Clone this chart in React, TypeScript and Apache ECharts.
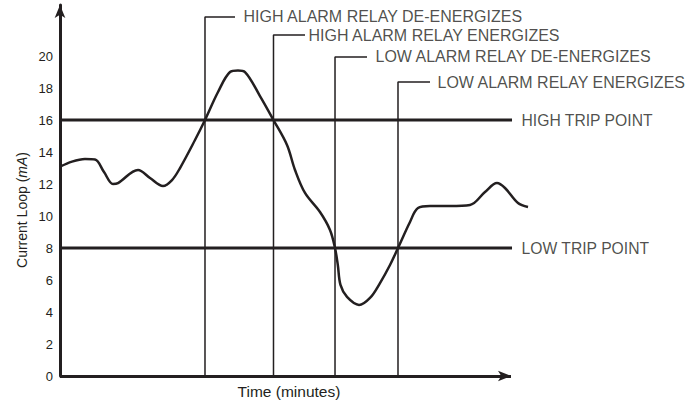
import React, { useEffect, useRef } from 'react';
import * as echarts from 'echarts';

// Current loop signal (time in arbitrary minute units, current in mA)
const curveTime = [0, 2.7, 5.62, 7.87, 9.9, 11.92, 13.05, 17.55, 20.25, 23.17, 25.2, 27.0, 30.37, 32.62, 35.55, 38.25, 40.04, 41.62, 44.99, 48.03, 51.07, 52.87, 55.12, 58.49, 60.74, 61.87, 62.5, 63.1, 64.57, 67.27, 69.74, 71.99, 74.24, 76.04, 78.74, 80.54, 83.24, 87.74, 92.24, 95.61, 98.31, 100.11, 103.04, 105.29];
const curveMA = [13.08, 13.4, 13.56, 13.53, 12.75, 12.0, 12.06, 12.88, 12.38, 11.88, 12.25, 13.0, 14.75, 16.0, 17.75, 19.0, 19.1, 19.0, 17.5, 16.0, 14.44, 12.88, 11.44, 10.25, 9.13, 8.0, 6.94, 5.69, 4.94, 4.44, 4.88, 5.81, 6.94, 8.0, 9.63, 10.5, 10.63, 10.63, 10.69, 11.5, 12.06, 11.75, 10.81, 10.56];

const tripLevels = [16, 8];
const tripLabels = ['HIGH TRIP POINT', 'LOW TRIP POINT'];
const tripEnd = 101.69;

const eventTimes = [32.62, 48.03, 61.87, 76.04];
const eventLevels = [22.44, 21.31, 19.94, 18.375];
const eventLeaderEnds = [39.37, 55.12, 69.07, 83.24];
const eventLabels = [
  'HIGH ALARM RELAY DE-ENERGIZES',
  'HIGH ALARM RELAY ENERGIZES',
  'LOW ALARM RELAY DE-ENERGIZES',
  'LOW ALARM RELAY ENERGIZES',
];

const yMin = 0;
const yMax = 23.19;
const yInterval = 2;
const yLabelMax = 20;
const xMin = 0;
const xMax = 107;
const xAxisEnd = 101.46;

const INK = '#231f20';
const FONT = "'Liberation Sans', Arial, sans-serif";
const eventLabelGaps = [8, 3, 8, 7];

export default function App() {
  const ref = useRef<HTMLDivElement>(null);

  useEffect(() => {
    if (!ref.current) return;
    const chart = echarts.init(ref.current, undefined, { renderer: 'svg' });

    const series: any[] = [];

    series.push({
      type: 'line',
      data: curveTime.map((t, i) => [t, curveMA[i]]),
      smooth: 0.35,
      showSymbol: false,
      symbol: 'none',
      clip: false,
      z: 5,
      lineStyle: { color: INK, width: 2.5 },
      markLine: {
        silent: true,
        symbol: ['none', 'arrow'],
        symbolSize: [8, 13],
        label: { show: false },
        lineStyle: { color: INK, width: 3, type: 'solid' },
        data: [[{ coord: [xMin, 0] }, { coord: [xAxisEnd, 0] }]],
      },
    });

    tripLevels.forEach((lvl, i) => {
      series.push({
        type: 'line',
        data: [[xMin, lvl], [tripEnd, lvl]],
        symbol: 'none',
        clip: false,
        z: 4,
        lineStyle: { color: INK, width: 3 },
      });
      series.push({
        type: 'scatter',
        data: [[tripEnd, lvl]],
        symbolSize: 1,
        clip: false,
        itemStyle: { color: 'rgba(0,0,0,0)' },
        label: {
          show: true,
          position: 'right',
          distance: 9,
          formatter: tripLabels[i],
          color: INK,
          fontSize: 15.7,
          fontFamily: FONT,
        },
      });
    });

    eventTimes.forEach((t, i) => {
      series.push({
        type: 'line',
        data: [[t, 0], [t, eventLevels[i]], [eventLeaderEnds[i], eventLevels[i]]],
        symbol: 'none',
        clip: false,
        z: 3,
        lineStyle: { color: INK, width: 1.5 },
      });
      series.push({
        type: 'scatter',
        data: [[eventLeaderEnds[i], eventLevels[i]]],
        symbolSize: 1,
        clip: false,
        itemStyle: { color: 'rgba(0,0,0,0)' },
        label: {
          show: true,
          position: 'right',
          distance: eventLabelGaps[i],
          formatter: eventLabels[i],
          color: INK,
          fontSize: 16,
          fontFamily: FONT,
        },
      });
    });

    const pxPerUnit = 4.445;
    chart.setOption({
      animation: false,
      backgroundColor: '#ffffff',
      grid: { left: 60, right: 694 - (60 + xMax * pxPerUnit), top: 5, bottom: 26, containLabel: false },
      xAxis: {
        type: 'value',
        min: xMin,
        max: xMax,
        axisLabel: { show: false },
        axisTick: { show: false },
        splitLine: { show: false },
        axisLine: { show: false },
      },
      yAxis: {
        type: 'value',
        min: yMin,
        max: yMax,
        interval: yInterval,
        axisTick: { show: false },
        splitLine: { show: false },
        axisLine: {
          show: true,
          symbol: ['none', 'arrow'],
          symbolSize: [8, 13],
          lineStyle: { color: INK, width: 3 },
        },
        axisLabel: {
          margin: 7,
          color: INK,
          fontSize: 13,
          fontFamily: FONT,
          formatter: (v: number) => (v <= yLabelMax ? String(v) : ''),
        },
      },
      graphic: [
        {
          type: 'text',
          x: 22,
          y: 210,
          rotation: Math.PI / 2,
          style: {
            text: '{a|Current Loop (}{b|mA}{a|)}',
            align: 'center',
            verticalAlign: 'middle',
            rich: {
              a: { fontSize: 14, fontFamily: FONT, fill: INK, color: INK },
              b: { fontSize: 14, fontFamily: FONT, fontStyle: 'italic', fill: INK, color: INK },
            },
          },
        },
        {
          type: 'text',
          x: 289,
          y: 391,
          style: {
            text: 'Time (minutes)',
            align: 'center',
            verticalAlign: 'middle',
            fontSize: 15.5,
            fontFamily: FONT,
            fill: INK,
          },
        },
      ],
      series,
    });

    return () => chart.dispose();
  }, []);

  return (
    <div
      ref={ref}
      style={{ position: 'absolute', left: 0, top: 0, width: 694, height: 402, background: '#fff' }}
    />
  );
}
